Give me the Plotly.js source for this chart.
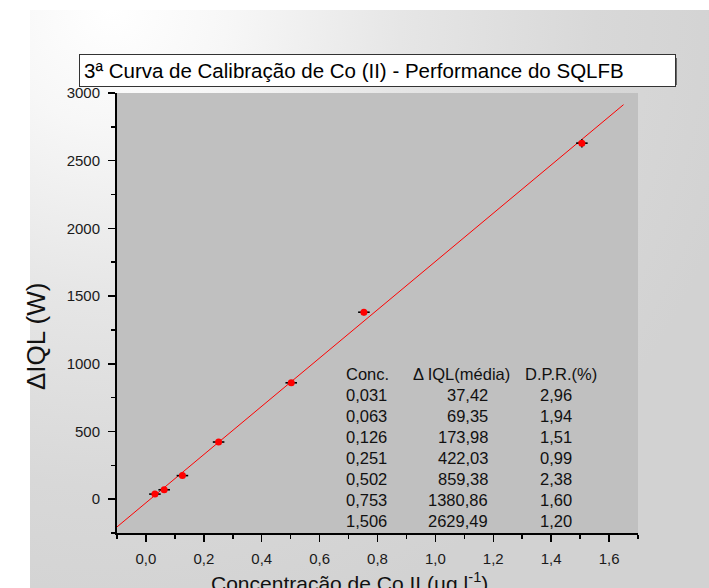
<!DOCTYPE html>
<html>
<head>
<meta charset="utf-8">
<script src="https://cdn.plot.ly/plotly-3.0.1.min.js"></script>
<style>
  html, body { margin: 0; padding: 0; background: #ffffff; }
  #wrap { position: relative; width: 709px; height: 588px; overflow: hidden; background: #ffffff; }
  #bg { position: absolute; left: 30px; top: 10px; width: 679px; height: 578px;
        background: radial-gradient(ellipse 95% 110% at 12% 0%, #ffffff 0%, #f7f7f7 18%, #e6e6e6 45%, #d8d8d8 75%, #d2d2d2 100%); }
  #chart { position: absolute; left: 0; top: 0; width: 709px; height: 588px; }
</style>
</head>
<body>
<div id="wrap"><div id="bg"></div><div id="chart"></div></div>
<script>
// ---- data ----
const conc = [0.031, 0.063, 0.126, 0.251, 0.502, 0.753, 1.506];
const iqlMedia = [37.42, 69.35, 173.98, 422.03, 859.38, 1380.86, 2629.49];
const dpr = [2.96, 1.94, 1.51, 0.99, 2.38, 1.60, 1.20];
const tableHeaders = ["Conc.", "\u0394 IQL(média)", "D.P.R.(%)"];
const titleText = "3ª Curva de Calibração de Co (II) - Performance do SQLFB";
const xTitle = "Concentração de Co II (µg l<sup>-1</sup>)";
const yTitle = "\u0394IQL (W)";

// ---- linear regression (fit line) ----
const n = conc.length;
const mx = conc.reduce((a, b) => a + b, 0) / n;
const my = iqlMedia.reduce((a, b) => a + b, 0) / n;
let sxx = 0, sxy = 0;
for (let i = 0; i < n; i++) { sxx += (conc[i] - mx) ** 2; sxy += (conc[i] - mx) * (iqlMedia[i] - my); }
const slope = sxy / sxx, intercept = my - slope * mx;
const fitX = [-0.1, 1.65];
const fitY = fitX.map(x => intercept + slope * x);

const errY = iqlMedia.map((v, i) => v * dpr[i] / 100);

const FONT = "Liberation Sans, Arial, sans-serif";
const L = 117, R = 638, T = 93, B = 533, W = 709, H = 588;
const px2x = p => (p - L) / (R - L);
const px2y = p => (B - p) / (B - T);

const fmt = (v, d) => v.toFixed(d).replace('.', ',');

const annotations = [];
// title box
annotations.push({
  xref: 'paper', yref: 'paper', x: px2x(377.5), y: px2y(70.5), xanchor: 'center', yanchor: 'middle',
  text: titleText, showarrow: false, align: 'left', width: 587, height: 23,
  bgcolor: '#ffffff', bordercolor: '#333333', borderwidth: 1, borderpad: 4,
  font: { family: FONT, size: 20.5, color: '#000000' }
});
// axis titles
annotations.push({
  xref: 'paper', yref: 'paper', x: px2x(36), y: px2y(337), xanchor: 'center', yanchor: 'middle',
  text: yTitle, textangle: -90, showarrow: false, font: { family: FONT, size: 26, color: '#111111' }
});
annotations.push({
  xref: 'paper', yref: 'paper', x: px2x(349), y: px2y(567), xanchor: 'center', yanchor: 'top',
  text: xTitle, showarrow: false, font: { family: FONT, size: 21, color: '#111111' }
});
// table
const tFont = { family: FONT, size: 16.5, color: '#111111' };
const rowY = i => px2y(374 + 21 * i);
annotations.push({ xref: 'paper', yref: 'paper', x: px2x(344), y: rowY(0), xanchor: 'left', yanchor: 'middle', text: tableHeaders[0], showarrow: false, font: tFont });
annotations.push({ xref: 'paper', yref: 'paper', x: px2x(411), y: rowY(0), xanchor: 'left', yanchor: 'middle', text: tableHeaders[1], showarrow: false, font: tFont });
annotations.push({ xref: 'paper', yref: 'paper', x: px2x(523), y: rowY(0), xanchor: 'left', yanchor: 'middle', text: tableHeaders[2], showarrow: false, font: tFont });
for (let i = 0; i < n; i++) {
  annotations.push({ xref: 'paper', yref: 'paper', x: px2x(344), y: rowY(i + 1), xanchor: 'left', yanchor: 'middle', text: fmt(conc[i], 3), showarrow: false, font: tFont });
  annotations.push({ xref: 'paper', yref: 'paper', x: px2x(490), y: rowY(i + 1), xanchor: 'right', yanchor: 'middle', text: fmt(iqlMedia[i], 2), showarrow: false, font: tFont });
  annotations.push({ xref: 'paper', yref: 'paper', x: px2x(574), y: rowY(i + 1), xanchor: 'right', yanchor: 'middle', text: fmt(dpr[i], 2), showarrow: false, font: tFont });
}

const traces = [
  { x: fitX, y: fitY, type: 'scatter', mode: 'lines', line: { color: '#ff0000', width: 1 }, hoverinfo: 'skip', showlegend: false },
  { x: conc, y: iqlMedia, type: 'scatter', mode: 'markers',
    marker: { color: '#ff0000', size: 7, symbol: 'circle', line: { color: '#cc0000', width: 0 } },
    error_x: { type: 'constant', value: 0.02, color: '#000000', thickness: 1.6, width: 0 },
    error_y: { type: 'data', array: errY, visible: true, color: '#000000', thickness: 1.6, width: 0 },
    showlegend: false }
];

const axisCommon = {
  showline: true, linecolor: '#000000', linewidth: 2, showgrid: false, zeroline: false,
  ticks: 'outside', ticklen: 7, tickwidth: 1.5, tickcolor: '#000000',
  tickfont: { family: FONT, size: 15, color: '#1a1a1a' }, mirror: false
};

const layout = {
  width: W, height: H,
  margin: { l: L, r: W - R, t: T, b: H - B, pad: 0 },
  paper_bgcolor: 'rgba(0,0,0,0)', plot_bgcolor: '#c0c0c0',
  separators: ',.',
  showlegend: false,
  shapes: [
    { type: 'rect', xref: 'paper', yref: 'paper', x0: px2x(80), x1: px2x(677), y0: px2y(85), y1: px2y(58),
      fillcolor: '#666666', line: { width: 0 }, layer: 'above' }
  ],
  xaxis: Object.assign({}, axisCommon, {
    range: [-0.1, 1.7], tick0: 0, dtick: 0.2, tickformat: '.1f', ticklabelstandoff: 4,
    minor: { dtick: 0.1, ticks: 'outside', ticklen: 4, tickwidth: 1.5, tickcolor: '#000000', showgrid: false }
  }),
  yaxis: Object.assign({}, axisCommon, {
    range: [-250, 3000], tick0: 0, dtick: 500, tickformat: 'd', ticklabelstandoff: 5,
    minor: { dtick: 250, ticks: 'outside', ticklen: 4, tickwidth: 1.5, tickcolor: '#000000', showgrid: false }
  }),
  annotations: annotations
};

Plotly.newPlot('chart', traces, layout, { staticPlot: true, displayModeBar: false });
</script>
</body>
</html>
